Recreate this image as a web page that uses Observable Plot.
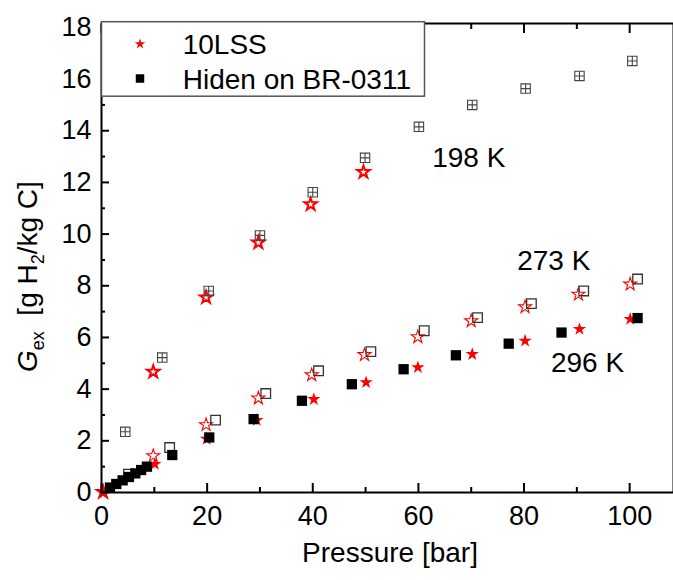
<!DOCTYPE html>
<html><head><meta charset="utf-8">
<script src="https://cdn.jsdelivr.net/npm/d3@7"></script>
<script src="https://cdn.jsdelivr.net/npm/@observablehq/plot@0.6"></script>
<style>body{margin:0;background:#fff;} #chart{position:relative;width:673px;height:580px;}</style>
</head><body><div id="chart"></div>
<script>
// ---- data (Pressure [bar], Gex [g H2/kg C]) ----
const p198Hiden = [4.5, 11.5, 20.3, 30.0, 40.0, 49.9, 60.1, 70.2, 80.3, 90.5, 100.5];
const g198Hiden = [2.35, 5.22, 7.8, 9.95, 11.62, 12.95, 14.15, 15.0, 15.63, 16.12, 16.7];
const p198LSS = [0.3, 9.8, 19.8, 29.7, 39.6, 49.6];
const g198LSS = [0.02, 4.67, 7.55, 9.67, 11.15, 12.4];

const p273Hiden = [5.1, 12.9, 21.6, 31.1, 41.1, 51.0, 61.1, 71.2, 81.4, 91.3, 101.5];
const g273Hiden = [0.71, 1.74, 2.80, 3.83, 4.71, 5.45, 6.26, 6.77, 7.31, 7.80, 8.26];
const p273LSS = [0.3, 9.8, 19.8, 29.7, 39.8, 49.8, 59.9, 70.0, 80.2, 90.3, 100.1];
const g273LSS = [0.02, 1.42, 2.62, 3.65, 4.55, 5.33, 6.02, 6.64, 7.18, 7.67, 8.06];

const p296Hiden = [1.6, 2.8, 4.0, 5.2, 6.4, 7.5, 8.6, 13.4, 20.4, 28.8, 37.95, 47.4, 57.2, 67.1, 77.1, 87.1, 101.5];
const g296Hiden = [0.19, 0.33, 0.47, 0.6, 0.74, 0.87, 1.0, 1.45, 2.13, 2.84, 3.55, 4.19, 4.77, 5.31, 5.76, 6.19, 6.75];
const p296LSS = [0.3, 10.1, 19.9, 29.4, 40.2, 50.1, 59.9, 70.2, 80.2, 90.5, 100.1];
const g296LSS = [0.02, 1.10, 2.07, 2.80, 3.61, 4.26, 4.84, 5.35, 5.87, 6.32, 6.71];

const tempLabels = ["198 K", "273 K", "296 K"];
const tempLabelP = [62.6, 78.7, 85.1];
const tempLabelG = [12.95, 8.96, 5.02];

const xMajor = [0, 20, 40, 60, 80, 100];
const xMinor = [10, 30, 50, 70, 90];
const yMajor = [0, 2, 4, 6, 8, 10, 12, 14, 16, 18];
const yMinor = [1, 3, 5, 7, 9, 11, 13, 15, 17];

const legendNames = ["10LSS", "Hiden on BR-0311"];
const xTitle = "Pressure [bar]";

// ---- helpers ----
const rows = (P, G) => P.map((p, i) => ({p, g: G[i]}));
const squarePlus = {
  draw(ctx, size) {
    const s = Math.sqrt(size) / 2;
    ctx.moveTo(-s, -s); ctx.lineTo(s, -s); ctx.lineTo(s, s); ctx.lineTo(-s, s); ctx.closePath();
    ctx.moveTo(-s, 0); ctx.lineTo(s, 0);
    ctx.moveTo(0, -s); ctx.lineTo(0, s);
  }
};
const labels = tempLabels.map((t, i) => ({t, p: tempLabelP[i], g: tempLabelG[i]}));
const noText = () => "";
const FONT = "'Liberation Sans', Arial, Helvetica, sans-serif";

const plot = Plot.plot({
  width: 673, height: 580,
  marginLeft: 101, marginRight: 0, marginTop: 23, marginBottom: 88,
  x: {domain: [0, 108.3]},
  y: {domain: [0, 18.15]},
  style: {fontFamily: FONT, fontSize: "27px", color: "#000", background: "#fff", overflow: "visible"},
  marks: [
    // stars (10LSS)
    Plot.dot(rows(p198LSS, g198LSS), {x: "p", y: "g", symbol: "star", r: 3.9, stroke: "#ff0000", strokeWidth: 2, fill: "none"}),
    Plot.dot(rows(p273LSS, g273LSS), {x: "p", y: "g", symbol: "star", r: 4.1, stroke: "#ff0000", strokeWidth: 1.1, fill: "none"}),
    Plot.dot(rows(p296LSS, g296LSS), {x: "p", y: "g", symbol: "star", r: 4.2, fill: "#ff0000", stroke: "none"}),
    // squares (Hiden)
    Plot.dot(rows(p198Hiden, g198Hiden), {x: "p", y: "g", symbol: squarePlus, r: 5.3, stroke: "#444", strokeWidth: 1.1, fill: "none"}),
    Plot.dot(rows(p273Hiden, g273Hiden), {x: "p", y: "g", symbol: "square", r: 5.4, stroke: "#333", strokeWidth: 1.3, fill: "none"}),
    Plot.dot(rows(p296Hiden, g296Hiden), {x: "p", y: "g", symbol: "square", r: 5.8, fill: "#000", stroke: "none"}),
    // temperature labels
    Plot.text(labels, {x: "p", y: "g", text: "t", textAnchor: "start", lineAnchor: "middle", fontSize: 28, fill: "#000"}),
    // frame + axes
    Plot.frame({stroke: "#000", strokeWidth: 2}),
    Plot.axisX(xMajor, {anchor: "bottom", tickSize: 0, tickPadding: 13, label: null}),
    Plot.axisX(xMajor, {anchor: "bottom", tickSize: -9, tickFormat: noText, label: null, strokeWidth: 2}),
    Plot.axisX(xMinor, {anchor: "bottom", tickSize: -5, tickFormat: noText, label: null, strokeWidth: 2}),
    Plot.axisX(xMajor, {anchor: "top", tickSize: -9, tickFormat: noText, label: null, strokeWidth: 2}),
    Plot.axisX(xMinor, {anchor: "top", tickSize: -5, tickFormat: noText, label: null, strokeWidth: 2}),
    Plot.axisY(yMajor, {anchor: "left", tickSize: 0, tickPadding: 10, label: null}),
    Plot.axisY(yMajor, {anchor: "left", tickSize: -8, tickFormat: noText, label: null, strokeWidth: 2}),
    Plot.axisY(yMinor, {anchor: "left", tickSize: -4, tickFormat: noText, label: null, strokeWidth: 2})
  ]
});
document.getElementById("chart").appendChild(plot);

// ---- titles and legend ----
const svg = d3.select(plot);
svg.append("text").attr("x", 390).attr("y", 562).attr("text-anchor", "middle")
  .attr("font-family", FONT).attr("font-size", 28).attr("fill", "#000").text(xTitle);

const yt = svg.append("text").attr("transform", "translate(37,372) rotate(-90)")
  .attr("text-anchor", "start").attr("font-family", FONT).attr("font-size", 28).attr("fill", "#000");
yt.append("tspan").attr("font-style", "italic").text("G");
yt.append("tspan").attr("font-size", 18).attr("dy", 7).text("ex");
yt.append("tspan").attr("dy", -7).text("\u00a0\u00a0[g H");
yt.append("tspan").attr("font-size", 18).attr("dy", 7).text("2");
yt.append("tspan").attr("dy", -7).text("/kg C]");

const lg = svg.append("g").attr("text-anchor", "start");
lg.append("rect").attr("x", 101.5).attr("y", 21.7).attr("width", 323).attr("height", 74.5)
  .attr("fill", "#fff").attr("stroke", "#555").attr("stroke-width", 1.5);
lg.append("path").attr("d", d3.symbol(d3.symbolStar, 34)()).attr("transform", "translate(140,44)").attr("fill", "#ff0000");
lg.append("path").attr("d", d3.symbol(d3.symbolSquare, 72)()).attr("transform", "translate(140,78.5)").attr("fill", "#000");
lg.append("text").attr("x", 182.7).attr("y", 53.5).attr("text-anchor", "start").attr("font-family", FONT).attr("font-size", 28).attr("fill", "#000").text(legendNames[0]);
lg.append("text").attr("x", 182.7).attr("y", 88.5).attr("text-anchor", "start").attr("font-family", FONT).attr("font-size", 28).attr("fill", "#000").text(legendNames[1]);
</script>
</body></html>
